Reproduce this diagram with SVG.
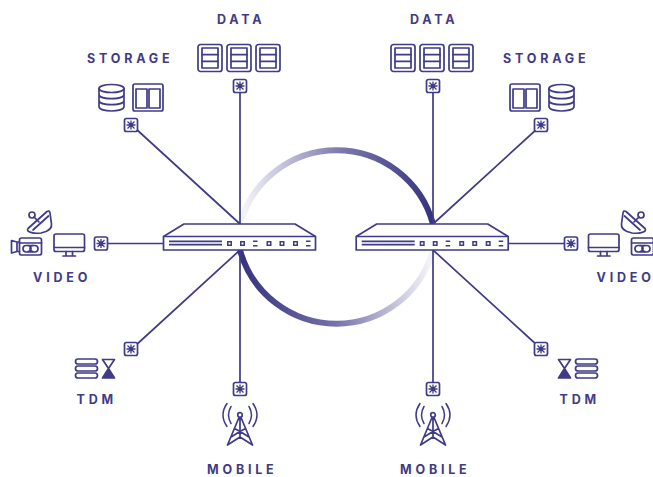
<svg xmlns="http://www.w3.org/2000/svg" width="653" height="477" viewBox="0 0 653 477">
<style>
.l{fill:none;stroke:#3f3b87;stroke-width:1.7;stroke-linecap:round;stroke-linejoin:round}
.w{fill:none;stroke:#3f3b87;stroke-width:1.500;stroke-linecap:round}
.c{fill:none;stroke:#3f3b87;stroke-width:1.700}
.d{fill:#3f3b87;stroke:none}
.t{font-family:Inter,"Liberation Sans",Arial,sans-serif;font-weight:700;font-size:12.5px;letter-spacing:3.8px;fill:#3f3b87}
</style>
<defs>
<linearGradient id="gb" gradientUnits="userSpaceOnUse" x1="240" y1="250" x2="430" y2="250"><stop offset="0" stop-color="#36327f"/><stop offset="0.5" stop-color="#7471a8"/><stop offset="1" stop-color="#f4f4f8"/></linearGradient>
<linearGradient id="gt" gradientUnits="userSpaceOnUse" x1="433" y1="224" x2="243" y2="224"><stop offset="0" stop-color="#36327f"/><stop offset="0.5" stop-color="#7f7cae"/><stop offset="1" stop-color="#f4f4f8"/></linearGradient>
<g id="port"><rect x="-6.500" y="-6.500" width="13" height="13" rx="2" fill="#fff" stroke="#3f3b87" stroke-width="1.700"/><path d="M-4.500 0H4.500M0-4.500V4.500M-3.500-3.500L3.500 3.500M-3.500 3.500L3.500-3.500" stroke="#3f3b87" stroke-width="1.300" fill="none"/><circle r="2.200" fill="#3f3b87"/></g>
<g id="srv"><rect x="0.500" y="0.500" width="24" height="27" rx="2.500" class="l"/><rect x="4.500" y="4" width="16" height="20" class="l"/><path d="M4.500 10.700H20.500M4.500 17.300H20.500" class="l"/></g>
<g id="sw">
<path d="M0.500 13L21 0.500H132L152.500 13V26.500H0.500Z" fill="#fff" stroke="#3f3b87" stroke-width="1.700" stroke-linejoin="round"/>
<path d="M0.500 13H152.500" class="c"/>
<path d="M6 17.800H59M6 21.200H59" class="c"/>
<g class="d"><rect x="64" y="17.500" width="5" height="5"/><rect x="77" y="17.500" width="5" height="5"/><rect x="103.500" y="17.500" width="5" height="5"/><rect x="116.500" y="17.500" width="5" height="5"/><rect x="130" y="17.500" width="5" height="5"/><rect x="90" y="17" width="4.500" height="1.500"/><rect x="90" y="21.500" width="4.500" height="1.500"/><rect x="143" y="17" width="4.500" height="1.500"/><rect x="143" y="21.500" width="4.500" height="1.500"/></g>
<g fill="#fff"><rect x="65.500" y="19" width="2" height="2"/><rect x="78.500" y="19" width="2" height="2"/><rect x="105" y="19" width="2" height="2"/><rect x="118" y="19" width="2" height="2"/><rect x="131.500" y="19" width="2" height="2"/></g>
</g>
<g id="storage">
<ellipse cx="111.500" cy="88.500" rx="12.500" ry="4" class="l"/>
<path d="M99 88.500V106.500C99 112.500 124 112.500 124 106.500V88.500M99 94.500C99 100 124 100 124 94.500M99 100.500C99 106 124 106 124 100.500" class="l"/>
<rect x="133" y="84" width="30" height="27" rx="2" class="l"/><rect x="136" y="89" width="11" height="19" class="l"/><rect x="149" y="89" width="11" height="19" class="l"/>
</g>
<g id="video">
<circle cx="32" cy="215" r="3" class="l"/><path d="M34 217L39 222" class="l"/>
<path d="M28 228.500L47 211.500Q49.500 210 50 213L51.500 224Q52 229 46 231.500L41 233Q32 234 28 231Q27 229.500 28 228.500Z" class="l"/>
<path d="M33 230L48.500 216" class="l"/>
<path d="M19.500 242H17L11.500 240.500V253L17 251.500H19.500M17 242V251.500" class="l"/>
<rect x="19.500" y="238" width="22" height="17" rx="2" class="l"/><path d="M19.500 243H41.500" class="l"/>
<rect x="23" y="245.500" width="15" height="6.500" rx="3.200" class="l"/><path d="M28 245.500A3 3 0 0 1 28 251.500M33 245.500A3 3 0 0 0 33 251.500" class="l"/>
<rect x="54" y="234" width="30.500" height="17.500" rx="2" class="l"/><path d="M54 247.500H84.500M66 251.500V255.500M72.500 251.500V255.500M63 256H75.500" class="l"/>
</g>
<g id="tdm">
<rect x="75.500" y="359" width="22" height="5" rx="2.500" class="l"/><rect x="75.500" y="366" width="22" height="5" rx="2.500" class="l"/><rect x="75.500" y="373" width="22" height="5" rx="2.500" class="l"/>
<path d="M102.500 359.500H114.500L108.500 368.500L114.500 378H102.500L108.500 368.500Z" class="l"/>
<path d="M108.500 368.500L114.500 378H102.500Z" class="d"/>
</g>
<g id="tower">
<circle cx="0" cy="415" r="2.300" class="l"/>
<path d="M-1 417.500L-12.500 445M1 417.500L12.500 445M0 417.500V437M-12.500 445L0 437L12.500 445M-9 437L0 431.500L9 437M-5.500 428.500L0 431.500L5.500 428.500" class="l"/>
<path d="M-9 406.500Q-14 415 -9 423.500M9 406.500Q14 415 9 423.500M-13 403.500Q-21 415 -13 426.500M13 403.500Q21 415 13 426.500" class="w"/>
</g>
</defs>
<g id="ring" fill="none" stroke-width="6">
<path d="M240 250A100 100 0 0 0 433 250" stroke="url(#gb)"/>
<path d="M433 224A100 100 0 0 0 240 224" stroke="url(#gt)"/>
</g>
<g id="connectors">
<path d="M240 224V92M240 224L135 128M163 243.500H107M240 250V382M240 250L135 346" class="l"/>
<path d="M433 224V92M433 224L538 128M509 243.500H565M433 250V382M433 250L538 346" class="l"/>
</g>
<g id="switch-left"><use href="#sw" x="163" y="223.500"/></g>
<g id="switch-right"><use href="#sw" x="355.700" y="223.500"/></g>
<g id="data-left"><use href="#srv" x="197.500" y="44"/><use href="#srv" x="226.500" y="44"/><use href="#srv" x="255.500" y="44"/><use href="#port" x="240" y="86"/><text class="t" x="217" y="23.500">DATA</text></g>
<g id="data-right"><use href="#srv" x="390.500" y="44"/><use href="#srv" x="419.500" y="44"/><use href="#srv" x="448.500" y="44"/><use href="#port" x="433" y="86"/><text class="t" x="410" y="23.500">DATA</text></g>
<g id="storage-left"><use href="#storage"/><use href="#port" x="131" y="125"/><text class="t" x="87" y="62.500">STORAGE</text></g>
<g id="storage-right"><g transform="matrix(-1 0 0 1 673 0)"><use href="#storage"/></g><use href="#port" x="541" y="125"/><text class="t" x="503" y="62.500">STORAGE</text></g>
<g id="video-left"><use href="#video"/><use href="#port" x="101" y="243.500"/><text class="t" x="33" y="282">VIDEO</text></g>
<g id="video-right"><g transform="matrix(-1 0 0 1 673 0)"><use href="#video"/></g><use href="#port" x="571" y="243.500"/><text class="t" x="596.500" y="282">VIDE<tspan letter-spacing="0">O</tspan></text></g>
<g id="tdm-left"><use href="#tdm"/><use href="#port" x="131" y="349"/><text class="t" x="76.500" y="404">TDM</text></g>
<g id="tdm-right"><g transform="matrix(-1 0 0 1 673 0)"><use href="#tdm"/></g><use href="#port" x="541" y="349"/><text class="t" x="559.500" y="404">TDM</text></g>
<g id="mobile-left"><use href="#port" x="240" y="389"/><use href="#tower" x="240"/><text class="t" x="207" y="473.800">MOBILE</text></g>
<g id="mobile-right"><use href="#port" x="433" y="389"/><use href="#tower" x="433"/><text class="t" x="400" y="473.800">MOBILE</text></g>
</svg>
